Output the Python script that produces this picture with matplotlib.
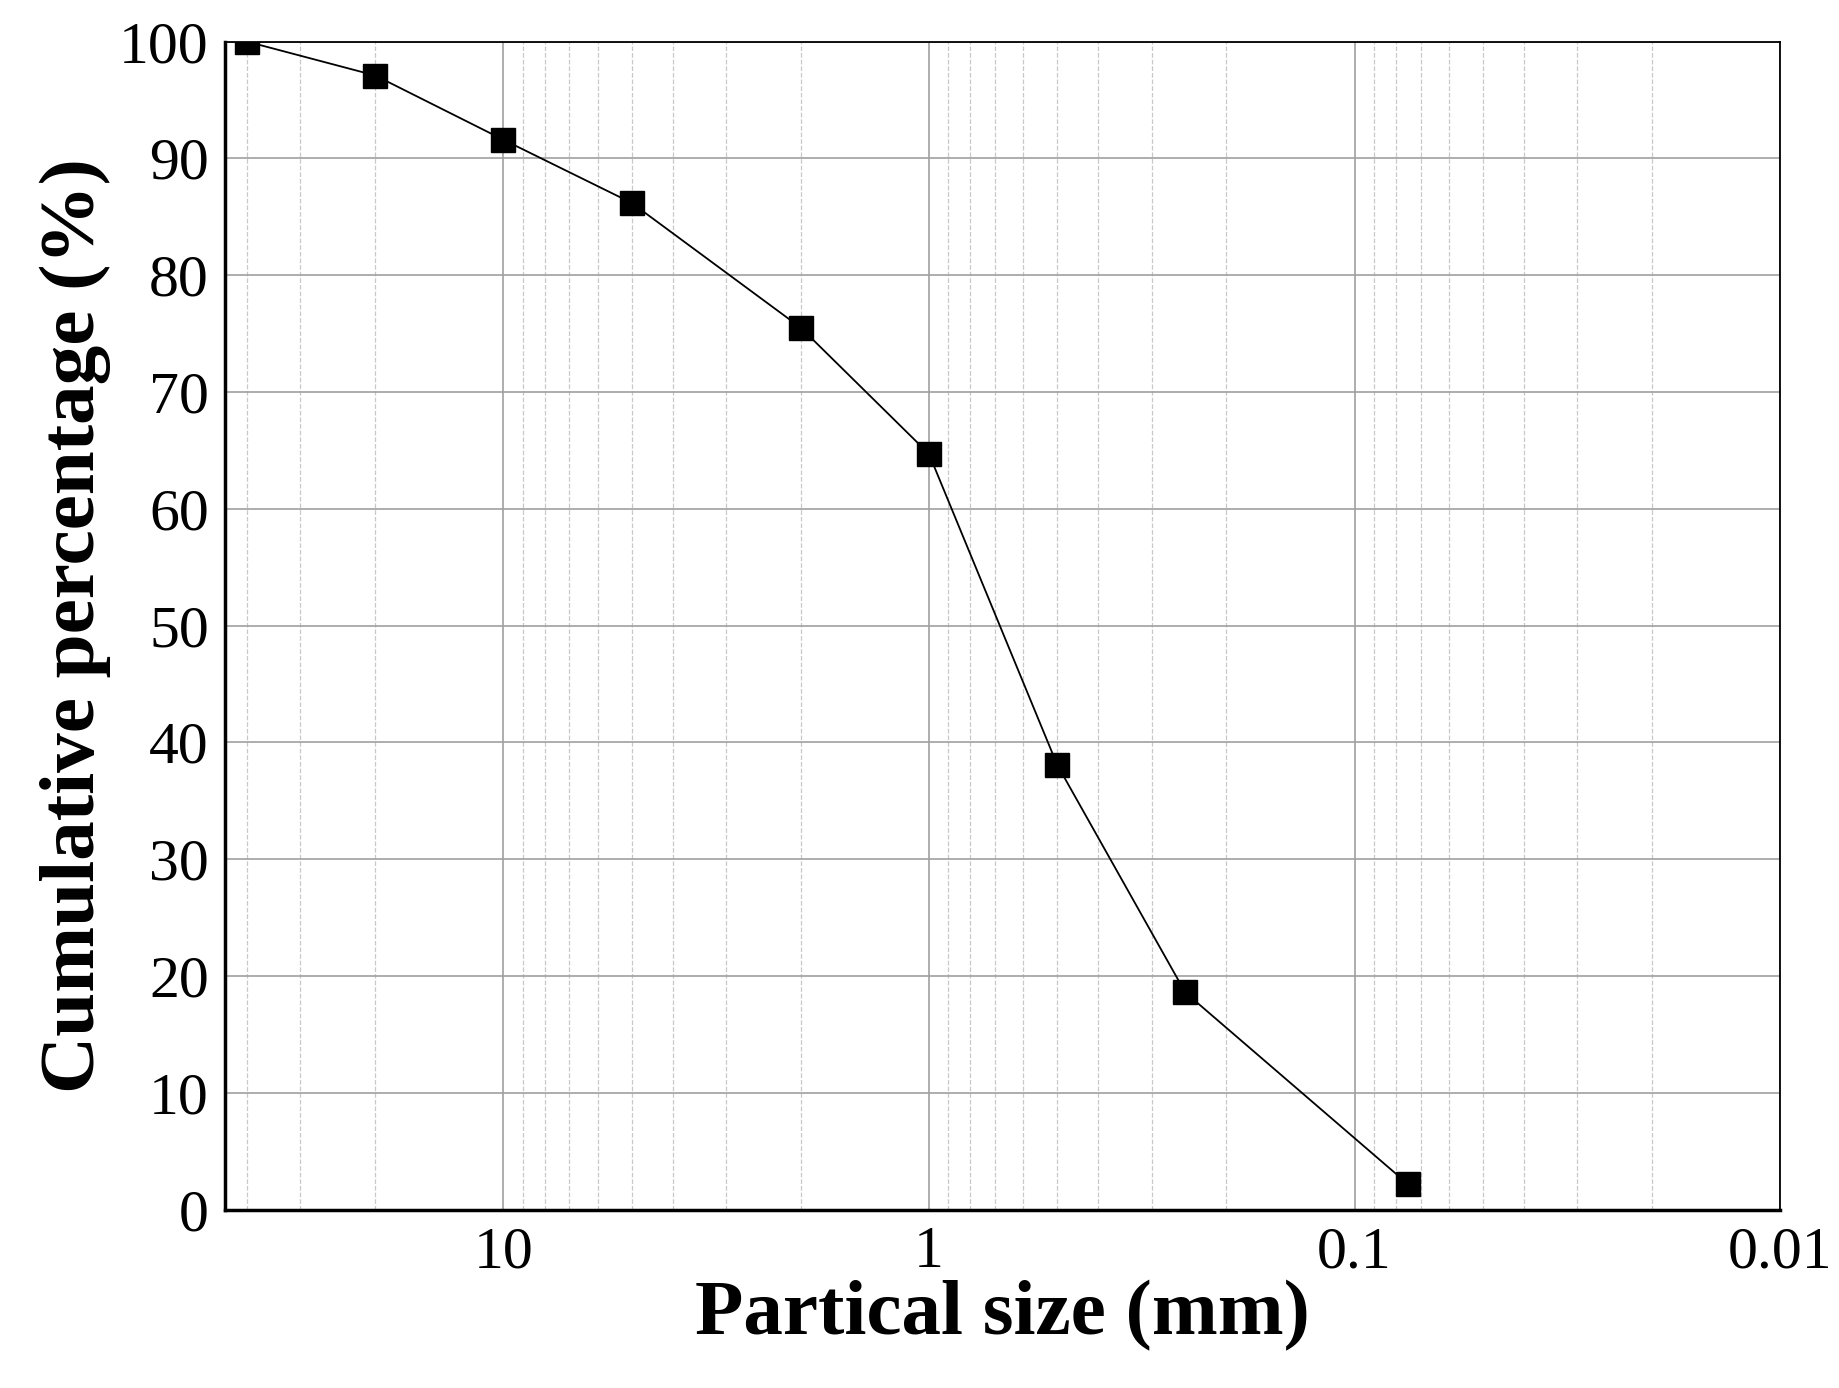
import matplotlib.pyplot as plt
from matplotlib.ticker import FixedLocator, LogLocator, NullFormatter

size_mm = [40, 20, 10, 5, 2, 1, 0.5, 0.25, 0.075]
cum_pct = [100, 97.1, 91.6, 86.2, 75.5, 64.7, 38.1, 18.6, 2.2]
x_ticks = [10, 1, 0.1, 0.01]
x_tick_labels = ["10", "1", "0.1", "0.01"]

plt.rcParams["font.family"] = ["Liberation Serif", "DejaVu Serif"]

fig, ax = plt.subplots(figsize=(18.4, 13.88), dpi=100)
fig.subplots_adjust(left=0.1225, right=0.9675, top=0.970, bottom=0.1285)

ax.plot(size_mm, cum_pct, "-", color="black", linewidth=1.3,
        marker="s", markersize=17, markerfacecolor="black", zorder=3)

ax.set_xscale("log")
ax.set_xlim(45, 0.01)
ax.set_ylim(0, 100)
ax.set_yticks(range(0, 101, 10))
ax.xaxis.set_major_locator(FixedLocator(x_ticks))
ax.set_xticklabels(x_tick_labels)
ax.xaxis.set_minor_locator(LogLocator(base=10, subs=range(2, 10)))
ax.xaxis.set_minor_formatter(NullFormatter())

ax.grid(which="major", color="#a0a0a0", linewidth=1.2)
ax.grid(which="minor", axis="x", color="#c8c8c8", linewidth=0.9, linestyle="--")
ax.set_axisbelow(True)

ax.tick_params(axis="both", which="major", labelsize=43, length=0, pad=12)
ax.tick_params(axis="x", which="minor", length=0)
for s in ax.spines.values():
    s.set_linewidth(1.3)
ax.spines["left"].set_linewidth(2.5)
ax.spines["bottom"].set_linewidth(2.5)

ax.set_xlabel("Partical size (mm)", fontsize=57, fontweight="bold", labelpad=0)
ax.set_ylabel("Cumulative percentage (%)", fontsize=57, fontweight="bold", labelpad=6)

plt.savefig("out.png", dpi=100)
